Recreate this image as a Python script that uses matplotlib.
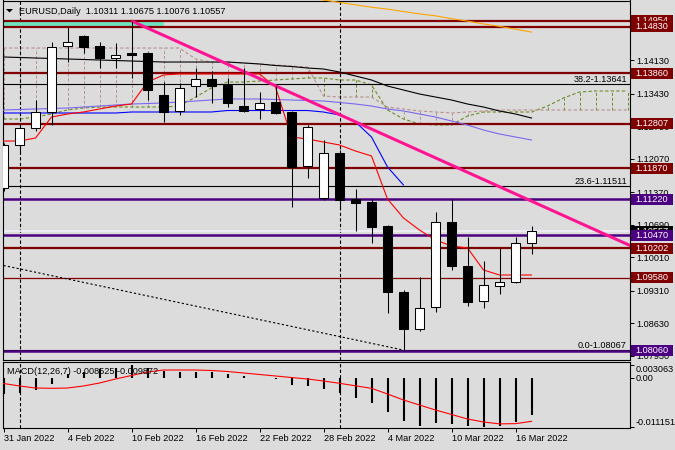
import matplotlib
matplotlib.use("Agg")
import matplotlib.pyplot as plt
import matplotlib.transforms as mtransforms
from matplotlib.patches import Rectangle, Polygon

plt.rcParams['font.family'] = ['Liberation Sans', 'DejaVu Sans']

# EURUSD daily bars, 31 Jan .. 17 Mar 2022
opens = [1.1145, 1.1235, 1.1271, 1.1304, 1.1442, 1.1463, 1.1442, 1.1417, 1.1428, 1.1428,
         1.1340, 1.1306, 1.1359, 1.1374, 1.1361, 1.1317, 1.1311, 1.1326, 1.1305, 1.1192,
         1.1124, 1.1219, 1.1123, 1.1117, 1.1067, 1.0929, 1.0852, 1.0898, 1.1075, 1.0983,
         1.0910, 1.0941, 1.0950, 1.10311]
highs = [1.1240, 1.1280, 1.1331, 1.1451, 1.1482, 1.1466, 1.1451, 1.1449, 1.14954, 1.1430,
         1.1367, 1.1366, 1.1396, 1.1390, 1.1377, 1.1396, 1.1346, 1.1359, 1.1307, 1.1278,
         1.1246, 1.1225, 1.1144, 1.1123, 1.1068, 1.0933, 1.0960, 1.1096, 1.1123, 1.1043,
         1.0993, 1.1021, 1.1043, 1.10675]
lows = [1.1139, 1.1220, 1.1265, 1.1277, 1.1409, 1.1428, 1.1396, 1.1396, 1.1375, 1.1329,
        1.1283, 1.1298, 1.1336, 1.1323, 1.1315, 1.1305, 1.1290, 1.1300, 1.1106, 1.1167,
        1.1121, 1.1105, 1.1057, 1.1031, 1.0885, 1.0806, 1.0846, 1.0887, 1.0975, 1.0899,
        1.0896, 1.0925, 1.0948, 1.10076]
closes = [1.1235, 1.1272, 1.1304, 1.1441, 1.1451, 1.1440, 1.1417, 1.1425, 1.1425, 1.1351,
          1.1304, 1.1356, 1.1374, 1.1359, 1.1324, 1.1307, 1.1324, 1.1303, 1.1190, 1.1274,
          1.1219, 1.1121, 1.1115, 1.1065, 1.0929, 1.0852, 1.0896, 1.1075, 1.0983, 1.0908,
          1.0943, 1.0950, 1.1031, 1.10557]

date_bars = [0, 4, 8, 12, 16, 20, 24, 28, 32]
date_labels = ['31 Jan 2022', '4 Feb 2022', '10 Feb 2022', '16 Feb 2022', '22 Feb 2022',
               '28 Feb 2022', '4 Mar 2022', '10 Mar 2022', '16 Mar 2022']
month_sep_bars = [1, 21]

# moving averages / ichimoku lines
ma_orange_bars = [19, 20, 21, 22, 23, 24, 25, 26, 27, 28, 29, 30, 31, 32, 33]
ma_orange = [1.1544, 1.1539, 1.1534, 1.1529, 1.1524, 1.1520, 1.1515, 1.1510, 1.1506, 1.1500,
             1.1495, 1.1489, 1.1484, 1.1478, 1.1472]
ma_black = [1.14199, 1.14189, 1.14178, 1.14168, 1.14157, 1.14147, 1.14136, 1.14126, 1.14115, 1.14105,
            1.14094, 1.14094, 1.14094, 1.14094, 1.14094, 1.14074, 1.14053, 1.14021, 1.14000, 1.13969,
            1.13948, 1.13885, 1.13802, 1.13718, 1.13592, 1.13509, 1.13425, 1.13362, 1.13300, 1.13216,
            1.13153, 1.13070, 1.13007, 1.12923]
ma_slate = [1.13091, 1.13101, 1.13112, 1.13122, 1.13132, 1.13153, 1.13174, 1.13195, 1.13216, 1.13226,
            1.13237, 1.13258, 1.13279, 1.13300, 1.13321, 1.13321, 1.13321, 1.13310, 1.13300, 1.13289,
            1.13279, 1.13248, 1.13216, 1.13174, 1.13112, 1.13070, 1.13007, 1.12944, 1.12861, 1.12777,
            1.12672, 1.12589, 1.12526, 1.12463]
kijun = [1.13028, 1.13028, 1.13028, 1.13028, 1.13028, 1.13028, 1.13028, 1.13028, 1.13049, 1.13049,
         1.13049, 1.13049, 1.13049, 1.13049, 1.13080, 1.13080, 1.13080, 1.13080, 1.13080, 1.13080,
         1.13049, 1.12986, 1.12840, 1.12526, 1.11899, 1.11522]
tenkan = [1.12442, 1.12442, 1.12505, 1.12944, 1.13007, 1.13049, 1.13112, 1.13174, 1.13216, 1.13676,
          1.13823, 1.13844, 1.13844, 1.13844, 1.13844, 1.13844, 1.13844, 1.13572, 1.12526, 1.12484,
          1.12421, 1.12359, 1.12233, 1.12129, 1.11229, 1.10832, 1.10581, 1.10372, 1.10247, 1.10205,
          1.09745, 1.09640, 1.09640, 1.09640]
span_a = [1.12902, 1.12902, 1.12944, 1.13007, 1.13091, 1.13132, 1.13153, 1.13153, 1.13153, 1.13153,
          1.13153, 1.13174, 1.13362, 1.13551, 1.13676, 1.13676, 1.13697, 1.13718, 1.13739, 1.13760,
          1.13760, 1.13718, 1.13718, 1.13614, 1.13091, 1.12902, 1.12798, 1.12777, 1.12777, 1.12965,
          1.13049, 1.13049, 1.13049, 1.13049, 1.13174, 1.13342, 1.13467, 1.13488, 1.13488, 1.13488]
span_b = [1.14387, 1.14387, 1.14387, 1.14387, 1.14387, 1.14387, 1.14387, 1.14387, 1.14387, 1.14387,
          1.14387, 1.14387, 1.14157, 1.14094, 1.14094, 1.14074, 1.14053, 1.14032, 1.14011, 1.13990,
          1.13383, 1.13362, 1.13362, 1.13362, 1.13153, 1.13112, 1.13070, 1.13049, 1.13028, 1.13049,
          1.13070, 1.13091, 1.13091, 1.13091, 1.13091, 1.13091, 1.13091, 1.13091, 1.13091, 1.13091]

# drawn objects
pink_bars = [8, 39.2]
pink_prices = [1.14954, 1.1025]
dotted_bars = [0, 25]
dotted_prices = [1.0984, 1.0807]
band_bars = [-1, 10]
band_prices = [1.14830, 1.14954]
red_levels = [1.14954, 1.14830, 1.13860, 1.12807, 1.11870, 1.10202]
thin_red_levels = [1.09580]
purple_levels = [1.11220, 1.10470, 1.08060]
fibo_levels = [1.15364, 1.13641, 1.11511, 1.08067]
fibo_labels = ['', '38.2-1.13641', '23.6-1.11511', '0.0-1.08067']
bid = 1.10557

price_ticks = [1.14830, 1.14130, 1.13430, 1.12750, 1.12070, 1.11370, 1.10690, 1.10010,
               1.09310, 1.08630, 1.07950]
box_prices = [1.14954, 1.14830, 1.13860, 1.12807, 1.11870, 1.11220, 1.10557, 1.10470,
              1.10202, 1.09580, 1.08060]

macd = [-0.0036, -0.0035, -0.0027, -0.0013, 0.0008, 0.0014, 0.0021, 0.0023, 0.003063, 0.0022,
        0.0017, 0.0014, 0.0014, 0.0014, 0.0008, 0.0004, 0.0001, -0.0002, -0.0015, -0.0018,
        -0.0024, -0.0035, -0.0046, -0.0058, -0.0077, -0.0097, -0.0109, -0.0102, -0.0105, -0.0109,
        -0.011151, -0.0109, -0.0100, -0.008525]
signal = [-0.00125, -0.00182, -0.00228, -0.00235, -0.00228, -0.00182, -0.00114, -0.00023, 0.00057, 0.00137,
          0.00182, 0.00182, 0.00182, 0.00171, 0.00148, 0.00114, 0.00080, 0.00046, 0.00011, -0.00023,
          -0.00068, -0.00121, -0.00178, -0.00235, -0.00364, -0.00501, -0.00615, -0.00729, -0.00831, -0.00934,
          -0.01002, -0.01045, -0.01040, -0.009872]

BG = '#DCDCDC'
MAROON = '#800000'
INDIGO = '#4B0082'
OLIVE = '#6B8E23'
ROSY = '#BC8F8F'
FS = 6.6

W, H = 675, 450
fig = plt.figure(figsize=(W / 100, H / 100), dpi=100, facecolor=BG)


def panel(x0, y0, x1, y1):
    a = fig.add_axes([x0 / W, 1 - y1 / H, (x1 - x0) / W, (y1 - y0) / H])
    a.set_facecolor(BG)
    for s in a.spines.values():
        s.set_linewidth(0.8)
    return a


ax = panel(2.5, 0, 629.5, 360)
mx = panel(2.5, 362, 629.5, 428)
ax.spines['top'].set_visible(False)

n = len(opens)
xs = list(range(n))

# ichimoku cloud
cloud_x = list(range(len(span_a)))
for i in cloud_x:
    a, b = span_a[i], span_b[i]
    if abs(a - b) > 0.00005:
        ax.vlines(i, min(a, b), max(a, b), color=ROSY if b > a else OLIVE,
                  lw=0.7, linestyles=(0, (3, 2)), zorder=1)
ax.plot(cloud_x, span_a, color=OLIVE, lw=0.8, ls=(0, (3, 2)), zorder=1.2)
ax.plot(cloud_x, span_b, color=ROSY, lw=0.8, ls=(0, (3, 2)), zorder=1.2)

# month separators
for b in month_sep_bars:
    ax.axvline(b, color='black', lw=0.8, ls=(0, (3, 2)), zorder=1.5)
    mx.axvline(b, color='black', lw=0.8, ls=(0, (3, 2)), zorder=1.5)

# levels
ax.fill_between(band_bars, band_prices[0], band_prices[1], color='#6EE3C2', lw=0, zorder=1.8)
for p in fibo_levels:
    ax.axhline(p, color='black', lw=0.8, zorder=2)
ax.axhline(bid, color='#EEEEF6', lw=1.3, zorder=2)
for p in red_levels:
    ax.axhline(p, color=MAROON, lw=1.6, zorder=2.2)
for p in thin_red_levels:
    ax.axhline(p, color=MAROON, lw=0.9, zorder=2.2)
for p in purple_levels:
    ax.axhline(p, color=INDIGO, lw=1.8, zorder=2.2)
for p, t in zip(fibo_levels, fibo_labels):
    if t:
        ax.text(0.996, p, t, transform=mtransforms.blended_transform_factory(ax.transAxes, ax.transData),
                ha='right', va='bottom', fontsize=FS, zorder=8)

# indicator lines
ax.plot(ma_orange_bars, ma_orange, color='#FFA500', lw=0.8, zorder=3)
ax.plot(xs, ma_black, color='black', lw=0.8, zorder=3)
ax.plot(xs, ma_slate, color='#7B68EE', lw=0.8, zorder=3)
ax.plot(list(range(len(kijun))), kijun, color='#0000FF', lw=0.8, zorder=3)
ax.plot(xs, tenkan, color='#FF0000', lw=0.8, zorder=3)
ax.plot(dotted_bars, dotted_prices, color='black', lw=0.8, ls=(0, (2, 2)), zorder=3)
ax.plot(pink_bars, pink_prices, color='#FF1493', lw=2.2, zorder=3.5, solid_capstyle='butt')

# candles
for i in xs:
    o, h, l, c = opens[i], highs[i], lows[i], closes[i]
    ax.vlines(i, l, h, color='black', lw=0.75, zorder=5)
    bottom = min(o, c)
    height = max(abs(c - o), 0.00006)
    ax.add_patch(Rectangle((i - 0.31, bottom), 0.62, height,
                           facecolor='white' if c >= o else 'black',
                           edgecolor='black', lw=0.75, zorder=6))

ax.set_xlim(-0.0625, 39.125)
ax.set_ylim(1.078627, 1.153910)
ax.set_xticks([])
ax.yaxis.tick_right()
ax.set_yticks(price_ticks)
ax.set_yticklabels([f'{t:.5f}' for t in price_ticks])
ax.tick_params(axis='y', direction='out', length=3, width=0.7, labelsize=FS, pad=2)

# price boxes on right axis
ptrans = mtransforms.blended_transform_factory(fig.transFigure, ax.transData)
hh = 5.5 / 4782
for k, p in enumerate(box_prices):
    col = MAROON
    if p in purple_levels:
        col = INDIGO
    if p == bid:
        col = 'black'
    fig.add_artist(Rectangle((631 / W, p - hh), 42 / W, 2 * hh, transform=ptrans,
                             facecolor=col, edgecolor='none', zorder=10 + 2 * k))
    fig.text(652 / W, p, f'{p:.5f}', transform=ptrans, ha='center', va='center',
             color='white', fontsize=FS, zorder=11 + 2 * k)

# MACD panel
mx.vlines(xs, 0, macd, color='black', lw=1.5, zorder=3)
mx.plot(xs, signal, color='#FF0000', lw=0.8, zorder=4)
mx.set_xlim(-0.0625, 39.125)
mx.set_ylim(-0.01139, 0.003645)
mx.yaxis.tick_right()
mx.set_yticks([0.003063, 0.0, -0.011151])
mx.set_yticklabels([])
mx.tick_params(axis='y', direction='out', length=3, width=0.7, pad=2)
mx.set_xticks(date_bars)
mx.set_xticklabels(date_labels, ha='left', fontsize=FS)
mx.tick_params(axis='x', direction='out', length=3, width=0.7, pad=1.5)

mtrans = mtransforms.blended_transform_factory(fig.transFigure, mx.transData)
for v, t, va in [(0.003063, '0.003063', 'top'), (0.0, '0.00', 'center'),
                 (-0.011151, '-0.011151', 'bottom')]:
    fig.text(636 / W, v, t, transform=mtrans, ha='left', va=va, fontsize=FS)

fig.text(7 / W, 1 - 372 / H, 'MACD(12,26,7) -0.008525 -0.009872', va='center', fontsize=FS, zorder=5)

# title
fig.add_artist(Polygon([(6 / W, 1 - 9 / H), (13 / W, 1 - 9 / H), (9.5 / W, 1 - 12.5 / H)],
                       closed=True, transform=fig.transFigure, facecolor='black', edgecolor='none'))
fig.text(19 / W, 1 - 11 / H, 'EURUSD,Daily  1.10311 1.10675 1.10076 1.10557', va='center', fontsize=FS)

fig.savefig('out.png', dpi=100, facecolor=BG)
